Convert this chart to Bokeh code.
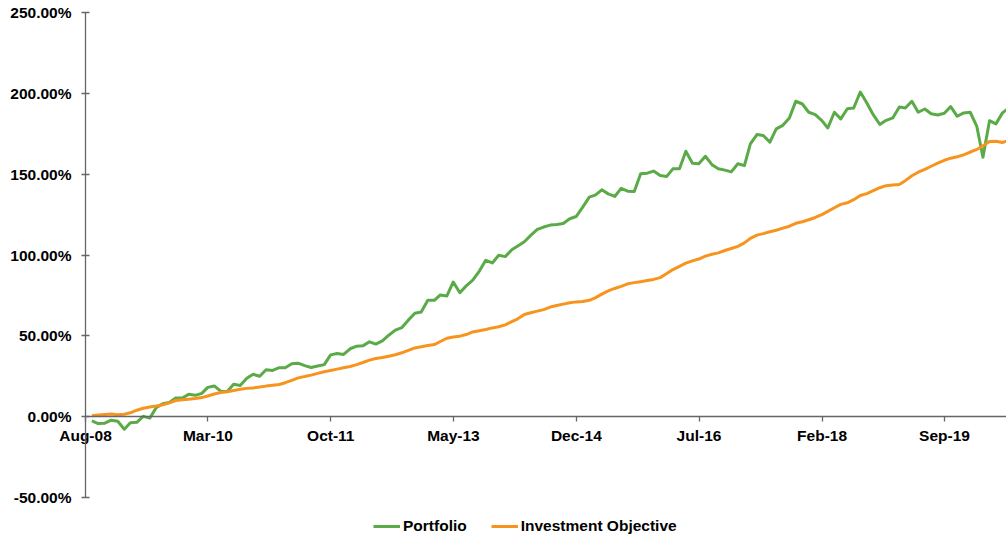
import pandas as pd
from bokeh.plotting import figure
from bokeh.models import (Range1d, FixedTicker, CustomJSTickFormatter,
                          DatetimeTickFormatter, Legend, LegendItem, ColumnDataSource)
from bokeh.embed import file_html
from bokeh.resources import INLINE

# ---- data (monthly, month-end, starting Aug-2008), values in % ----
first_month_end = "2008-08-31"
portfolio = [
    -2.6, -4.3, -4.0, -2.2, -2.8, -7.8, -3.8, -3.5, 0.2, -0.9,
    5.5, 8.0, 8.8, 11.5, 11.5, 13.8, 13.2, 14.4, 18.1, 19.0,
    15.8, 15.6, 20.0, 19.3, 23.8, 26.2, 25.0, 29.0, 28.6, 30.3,
    30.2, 32.7, 33.1, 31.6, 30.4, 31.3, 32.2, 38.2, 39.1, 38.5,
    42.0, 43.6, 43.8, 46.3, 44.9, 46.9, 50.4, 53.5, 55.1, 59.7,
    64.0, 64.8, 72.0, 72.0, 75.3, 74.7, 83.3, 76.7, 80.9, 84.4,
    90.1, 96.7, 95.1, 99.8, 99.0, 103.3, 105.6, 108.2, 112.1, 115.8,
    117.3, 118.5, 118.9, 119.5, 122.4, 123.8, 129.6, 135.8, 137.0, 140.3,
    137.8, 136.2, 141.2, 139.5, 139.3, 150.2, 150.6, 151.9, 149.2, 148.6,
    153.3, 153.3, 164.2, 156.8, 156.4, 161.1, 155.9, 153.3, 152.5, 151.4,
    156.4, 155.3, 168.7, 174.5, 173.9, 169.8, 178.0, 180.2, 184.8, 195.1,
    193.4, 188.3, 186.8, 183.1, 178.6, 188.3, 184.2, 190.5, 190.9, 200.8,
    194.0, 186.8, 180.7, 183.3, 184.8, 191.5, 190.9, 195.1, 188.3, 190.3,
    187.4, 186.6, 187.7, 191.8, 185.8, 187.9, 188.3, 179.6, 160.5, 183.1,
    181.1, 187.9, 191.0,
]
objective = [
    0.6, 1.0, 1.3, 1.6, 1.2, 1.5, 2.4, 4.0, 5.2, 6.0,
    6.6, 7.4, 8.5, 10.0, 10.5, 10.8, 11.2, 11.8, 12.8, 14.0,
    14.9, 15.4, 16.2, 17.0, 17.5, 17.8, 18.3, 18.9, 19.4, 19.9,
    21.0, 22.5, 24.0, 24.8, 25.7, 26.8, 27.8, 28.6, 29.4, 30.2,
    31.0, 32.2, 33.5, 35.0, 36.0, 36.6, 37.4, 38.3, 39.5, 41.0,
    42.5, 43.2, 44.0, 44.6, 46.5, 48.5, 49.3, 49.8, 50.8, 52.4,
    53.2, 53.9, 54.9, 55.6, 56.8, 58.8, 60.5, 63.2, 64.3, 65.3,
    66.2, 67.8, 68.8, 69.6, 70.5, 71.0, 71.2, 72.0, 73.5, 75.8,
    77.8, 79.3, 80.6, 82.2, 82.9, 83.5, 84.2, 84.9, 86.0, 88.5,
    91.0, 93.0, 95.0, 96.4, 97.5, 99.3, 100.5, 101.3, 102.8, 104.0,
    105.3, 107.5, 110.3, 112.3, 113.2, 114.4, 115.3, 116.6, 117.8, 119.6,
    120.6, 121.8, 123.2, 125.0, 127.0, 129.2, 131.3, 132.3, 134.2, 136.8,
    138.0, 139.8, 141.6, 142.9, 143.3, 143.6, 146.0, 149.0, 151.2, 153.0,
    154.9, 156.8, 158.6, 159.9, 160.8, 161.9, 163.7, 165.3, 167.5, 170.2,
    170.4, 169.6, 171.0,
]
x_tick_labels = ["Aug-08", "Mar-10", "Oct-11", "May-13", "Dec-14", "Jul-16", "Feb-18", "Sep-19"]
y_ticks = [-50, 0, 50, 100, 150, 200, 250]
series_names = ["Portfolio", "Investment Objective"]
series_colors = ["#5aab47", "#f7941e"]
x_end_date = "2020-06-19"

# ---- layout (pixels) ----
W, H = 1006, 538
AX_LEFT, AX_TOP, AX_BOTTOM = 85, 12, 497   # axis positions in the canvas

dates = pd.date_range(first_month_end, periods=len(portfolio), freq=pd.offsets.MonthEnd())
tick_dates = pd.to_datetime(x_tick_labels, format="%b-%y")
tick_ms = [t.value // 10**6 for t in tick_dates]
t0 = tick_ms[0]
t1 = pd.Timestamp(x_end_date).value // 10**6
x_start = t0 - (t1 - t0) * AX_LEFT / (W - AX_LEFT)
ypp = (max(y_ticks) - min(y_ticks)) / (AX_BOTTOM - AX_TOP)
y_top = max(y_ticks) + AX_TOP * ypp
y_bot = min(y_ticks) - (H - AX_BOTTOM) * ypp

src = ColumnDataSource(dict(x=dates, p=portfolio, o=objective))

FONT = "Liberation Sans"
FS = "15.5px"

p = figure(x_axis_type="datetime",
           x_range=Range1d(x_start, t1), y_range=Range1d(y_bot, y_top),
           width=W, height=H,
           min_border_left=0, min_border_right=0, min_border_top=0, min_border_bottom=0,
           output_backend="svg", toolbar_location=None)
p.outline_line_color = None
p.xgrid.visible = False
p.ygrid.visible = False
p.background_fill_color = "white"

g = p.line("x", "p", source=src, line_color=series_colors[0], line_width=3, line_join="round")
o = p.line("x", "o", source=src, line_color=series_colors[1], line_width=3, line_join="round")

xa = p.xaxis[0]
xa.fixed_location = 0
xa.bounds = (t0, t1)
xa.ticker = FixedTicker(ticks=tick_ms)
xa.formatter = DatetimeTickFormatter(days="%b-%y", months="%b-%y", years="%b-%y")
xa.minor_tick_line_color = None
xa.major_tick_in = 0
xa.major_tick_out = 5
xa.axis_line_color = "#666666"
xa.axis_line_width = 1.3
xa.major_tick_line_color = "#666666"
xa.major_tick_line_width = 1.3
xa.major_label_text_font = FONT
xa.major_label_text_font_style = "bold"
xa.major_label_text_font_size = FS
xa.major_label_text_color = "#000000"
xa.major_label_standoff = 5

ya = p.yaxis[0]
ya.fixed_location = t0
ya.bounds = (min(y_ticks), max(y_ticks))
ya.ticker = FixedTicker(ticks=y_ticks)
ya.formatter = CustomJSTickFormatter(code="return tick.toFixed(2) + '%';")
ya.minor_tick_line_color = None
ya.major_tick_in = 4
ya.major_tick_out = 4
ya.axis_line_color = "#666666"
ya.axis_line_width = 1.3
ya.major_tick_line_color = "#666666"
ya.major_tick_line_width = 1.3
ya.major_label_text_font = FONT
ya.major_label_text_font_style = "bold"
ya.major_label_text_font_size = FS
ya.major_label_text_color = "#000000"
ya.major_label_standoff = 10

legend = Legend(items=[LegendItem(label=series_names[0], renderers=[g]),
                       LegendItem(label=series_names[1], renderers=[o])],
                orientation="horizontal", location=(373, 3),
                border_line_color=None, background_fill_alpha=0,
                label_text_font=FONT, label_text_font_style="bold",
                label_text_font_size=FS, label_text_color="#000000",
                glyph_width=27, glyph_height=18, label_height=18,
                label_standoff=3, spacing=24, padding=0, margin=0)
p.add_layout(legend, "center")

open("out.html", "w").write(file_html(p, INLINE))
